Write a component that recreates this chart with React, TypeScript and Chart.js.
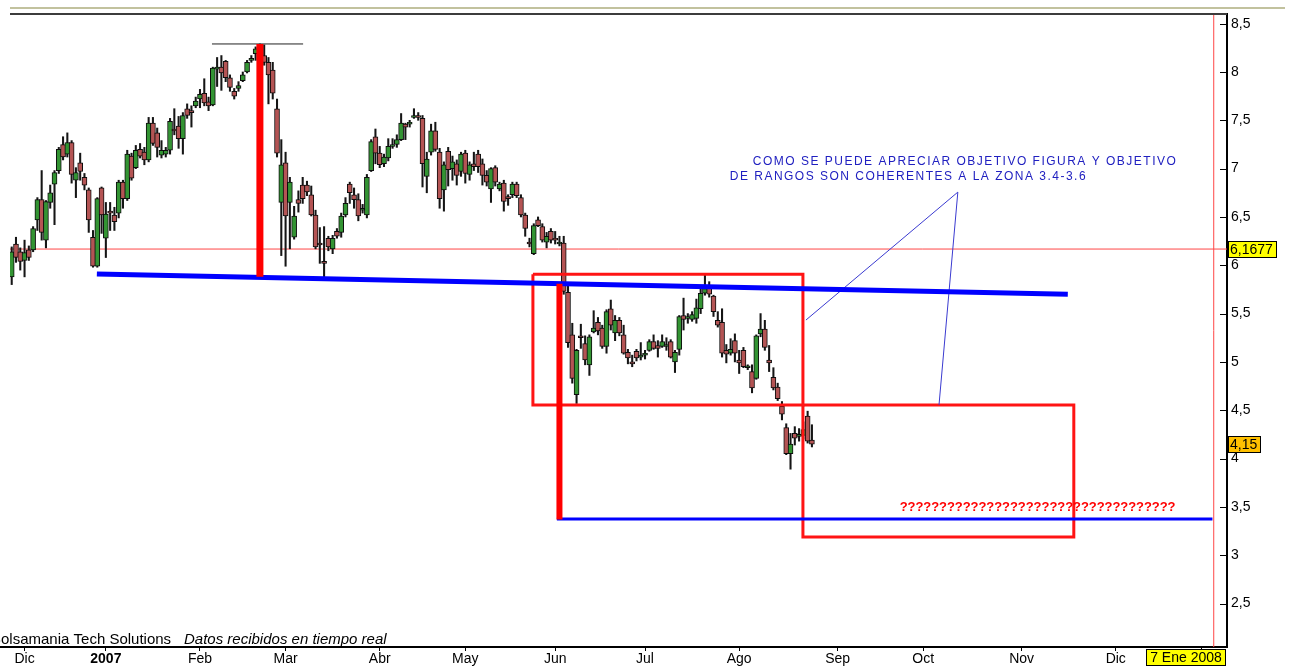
import React, { useEffect, useRef } from 'react';
import { Chart, registerables } from 'chart.js';

Chart.register(...registerables);

// ---------- DATA (trading-day index 0 = first candle, late Nov 2006) ----------
const opens = [
  5.88, 6.22, 6.14, 6.05, 6.16, 6.16, 6.47, 6.68, 6.26, 6.65,
  6.84, 6.98, 7.25, 7.15, 7.27, 6.88, 7.06, 6.91, 6.78, 6.29,
  5.99, 6.80, 6.28, 6.56, 6.52, 6.54, 6.86, 6.69, 7.13, 7.01,
  7.20, 7.17, 7.09, 7.47, 7.37, 7.14, 7.15, 7.19, 7.41, 7.44,
  7.31, 7.62, 7.60, 7.65, 7.72, 7.78, 7.69, 7.66, 8.03, 8.05,
  8.11, 7.94, 7.80, 7.83, 7.91, 8.00, 8.12, 8.19, 8.22, 8.17,
  8.10, 8.02, 7.62, 6.65, 7.06, 6.65, 6.29, 6.68, 6.83, 6.83,
  6.73, 6.52, 6.23, 6.04, 6.28, 6.17, 6.35, 6.34, 6.52, 6.84,
  6.73, 6.68, 6.57, 6.52, 6.98, 7.33, 7.16, 7.05, 7.11, 7.23,
  7.25, 7.30, 7.46, 7.46, 7.53, 7.55, 7.52, 6.92, 7.17, 7.39,
  7.17, 6.78, 7.18, 7.00, 7.05, 6.97, 7.16, 6.94, 7.05, 7.15,
  7.05, 6.93, 6.79, 7.01, 6.79, 6.85, 6.71, 6.73, 6.84, 6.70,
  6.52, 6.24, 6.12, 6.47, 6.40, 6.24, 6.35, 6.28, 6.22, 6.23,
  5.72, 5.28, 4.66, 5.27, 5.19, 4.97, 5.31, 5.41, 5.35, 5.16,
  5.55, 5.30, 5.43, 5.28, 5.10, 5.00, 5.11, 5.05, 5.07, 5.12,
  5.21, 5.17, 5.16, 5.16, 5.21, 5.00, 5.13, 5.48, 5.45, 5.44,
  5.45, 5.55, 5.71, 5.79, 5.68, 5.43, 5.41, 5.12, 5.09, 5.22,
  5.02, 5.12, 4.94, 4.90, 4.83, 5.29, 5.34, 5.02, 4.84, 4.74,
  4.54, 4.32, 4.05, 4.26, 4.23, 4.24, 4.44, 4.19,
];
const highs = [
  6.19, 6.29, 6.18, 6.26, 6.20, 6.40, 6.70, 6.98, 6.67, 6.83,
  6.98, 7.22, 7.33, 7.37, 7.29, 7.01, 7.16, 6.95, 6.80, 6.36,
  6.70, 6.81, 6.65, 6.65, 6.60, 6.88, 6.88, 7.19, 7.16, 7.24,
  7.26, 7.22, 7.53, 7.53, 7.42, 7.29, 7.22, 7.52, 7.62, 7.54,
  7.58, 7.67, 7.65, 7.74, 7.82, 7.93, 7.74, 8.05, 8.15, 8.17,
  8.12, 7.97, 7.83, 7.90, 8.00, 8.12, 8.17, 8.26, 8.29, 8.28,
  8.15, 8.10, 7.72, 7.30, 7.17, 6.91, 6.61, 6.77, 6.91, 6.87,
  6.82, 6.57, 6.39, 6.40, 6.30, 6.31, 6.38, 6.54, 6.70, 6.86,
  6.80, 6.74, 6.63, 6.94, 7.30, 7.41, 7.23, 7.15, 7.31, 7.31,
  7.35, 7.57, 7.47, 7.50, 7.62, 7.58, 7.55, 7.17, 7.46, 7.48,
  7.21, 7.07, 7.22, 7.13, 7.09, 7.17, 7.19, 7.07, 7.17, 7.19,
  7.10, 6.98, 7.01, 7.03, 6.86, 6.88, 6.73, 6.86, 6.86, 6.73,
  6.54, 6.28, 6.43, 6.50, 6.43, 6.34, 6.38, 6.35, 6.30, 6.30,
  5.80, 5.40, 5.13, 5.39, 5.27, 5.28, 5.53, 5.46, 5.38, 5.54,
  5.64, 5.48, 5.46, 5.38, 5.13, 5.07, 5.13, 5.20, 5.12, 5.23,
  5.28, 5.22, 5.28, 5.25, 5.23, 5.12, 5.48, 5.66, 5.50, 5.52,
  5.65, 5.77, 5.90, 5.83, 5.69, 5.52, 5.55, 5.18, 5.24, 5.29,
  5.12, 5.15, 4.97, 4.97, 5.28, 5.50, 5.43, 5.17, 4.94, 4.78,
  4.59, 4.36, 4.26, 4.33, 4.31, 4.38, 4.49, 4.35,
];
const lows = [
  5.80, 6.03, 5.95, 5.88, 6.05, 6.14, 6.36, 6.26, 6.18, 6.59,
  6.42, 6.95, 7.09, 7.12, 6.85, 6.70, 6.88, 6.78, 6.34, 5.98,
  5.98, 6.33, 6.08, 6.36, 6.36, 6.49, 6.59, 6.67, 6.88, 7.00,
  7.11, 7.04, 7.07, 7.24, 7.12, 7.11, 7.12, 7.15, 7.35, 7.21,
  7.15, 7.52, 7.43, 7.63, 7.63, 7.65, 7.60, 7.65, 7.85, 7.81,
  7.90, 7.80, 7.72, 7.80, 7.90, 7.99, 8.10, 8.12, 8.15, 8.07,
  7.67, 7.72, 7.12, 6.10, 5.99, 6.17, 6.27, 6.55, 6.64, 6.72,
  6.51, 6.17, 6.02, 5.88, 6.15, 6.12, 6.28, 6.29, 6.50, 6.64,
  6.59, 6.46, 6.54, 6.49, 6.97, 7.05, 7.01, 7.02, 7.08, 7.21,
  7.22, 7.29, 7.30, 7.43, 7.52, 7.50, 6.81, 6.75, 7.14, 7.18,
  6.59, 6.56, 6.82, 6.88, 6.83, 6.92, 6.85, 6.88, 6.98, 6.96,
  6.83, 6.82, 6.65, 6.82, 6.77, 6.56, 6.62, 6.70, 6.70, 6.50,
  6.30, 6.19, 6.11, 6.40, 6.24, 6.18, 6.23, 6.22, 6.20, 5.70,
  5.15, 4.78, 4.57, 5.14, 4.97, 4.86, 5.30, 5.28, 5.14, 5.09,
  5.33, 5.22, 5.27, 5.08, 4.98, 4.95, 5.01, 5.02, 5.03, 5.11,
  5.13, 5.05, 5.15, 5.12, 5.04, 4.89, 5.07, 5.33, 5.40, 5.42,
  5.40, 5.50, 5.69, 5.67, 5.47, 5.36, 5.05, 4.99, 5.07, 5.00,
  4.88, 4.94, 4.92, 4.68, 4.82, 5.26, 5.12, 4.90, 4.71, 4.60,
  4.40, 4.04, 3.89, 4.14, 4.18, 4.20, 4.16, 4.12,
];
const closes = [
  6.14, 6.08, 6.04, 6.13, 6.08, 6.38, 6.68, 6.34, 6.66, 6.75,
  6.96, 7.20, 7.12, 7.27, 6.94, 6.96, 6.97, 6.83, 6.47, 5.99,
  6.69, 6.52, 6.53, 6.54, 6.45, 6.86, 6.69, 7.15, 6.90, 7.19,
  7.13, 7.09, 7.47, 7.26, 7.22, 7.19, 7.19, 7.49, 7.39, 7.31,
  7.55, 7.55, 7.58, 7.70, 7.77, 7.68, 7.65, 8.04, 8.05, 7.99,
  7.94, 7.84, 7.75, 7.86, 7.97, 8.10, 8.14, 8.24, 8.27, 8.10,
  7.97, 7.78, 7.16, 7.04, 6.51, 6.86, 6.51, 6.64, 6.69, 6.76,
  6.52, 6.19, 6.21, 6.02, 6.19, 6.28, 6.30, 6.51, 6.64, 6.75,
  6.68, 6.51, 6.59, 6.91, 7.28, 7.16, 7.04, 7.12, 7.23, 7.25,
  7.30, 7.47, 7.43, 7.48, 7.55, 7.53, 7.05, 7.10, 7.39, 7.20,
  6.69, 7.04, 6.99, 7.07, 6.93, 7.15, 6.95, 7.04, 7.02, 7.02,
  6.93, 6.86, 7.00, 6.86, 6.84, 6.66, 6.69, 6.84, 6.72, 6.52,
  6.38, 6.22, 6.41, 6.41, 6.26, 6.30, 6.26, 6.26, 6.24, 5.73,
  5.20, 4.83, 5.12, 5.25, 5.02, 5.26, 5.35, 5.32, 5.16, 5.52,
  5.38, 5.43, 5.30, 5.09, 5.04, 4.98, 5.04, 5.07, 5.09, 5.21,
  5.14, 5.14, 5.21, 5.18, 5.05, 5.10, 5.47, 5.44, 5.47, 5.49,
  5.56, 5.71, 5.76, 5.70, 5.52, 5.38, 5.09, 5.08, 5.13, 5.09,
  4.99, 4.95, 4.96, 4.73, 5.27, 5.34, 5.15, 4.99, 4.73, 4.62,
  4.46, 4.05, 4.15, 4.21, 4.25, 4.30, 4.18, 4.15,
];

// month ticks (trading-day index of the first session of each month)
const monthTickIdx = [3, 22, 44, 64, 86, 106, 127, 148, 170, 193, 213, 236, 258, 278];
const monthTickLabels = ['Dic', '2007', 'Feb', 'Mar', 'Abr', 'May', 'Jun', 'Jul', 'Ago', 'Sep', 'Oct', 'Nov', 'Dic', ''];
const todayLabel = '7 Ene 2008';
const priceTicks = [2.5, 3, 3.5, 4, 4.5, 5, 5.5, 6, 6.5, 7, 7.5, 8, 8.5];

const lastPrice = 4.15;
const refLevel = 6.1677;
const todayIdx = 280.9;

// drawn annotations (index, price)
const topMarkerX = [46.8, 68.1];
const topMarkerY = 8.29;
const bar1X = 58;
const bar1Y = [8.29, 5.88];
const bar2X = 128;
const bar2Y = [5.81, 3.37];
const slopeLineX = [19.9, 246.8];
const slopeLineY = [5.91, 5.7];
const targetLineX = [127.4, 280.6];
const targetLineY = 3.375;
const rect1X = [121.8, 184.9];
const rect1Y = [5.908, 4.554];
const rect2X = [184.9, 248.2];
const rect2Y = [4.554, 3.189];
const pointerX = [185.6, 221.1, 216.7];
const pointerY = [5.433, 6.757, 4.554];

const noteLines = [
  'COMO SE PUEDE APRECIAR OBJETIVO FIGURA Y OBJETIVO',
  'DE RANGOS SON COHERENTES A LA ZONA 3.4-3.6',
];
const noteX = [173.2, 167.8];
const noteY = [7.07, 6.915];
const questionText = '???????????????????????????????????';
const questionX = 207.5;
const questionY = 3.49;
const footerBrand = 'Bolsamania Tech Solutions';
const footerNote = 'Datos recibidos en tiempo real';

const X_MIN = -0.4;
const X_MAX = 284;
const Y_MIN = 2.05;
const Y_MAX = 8.6;

const FONT = 'Arial, "Liberation Sans", sans-serif';

function fitText(ctx: CanvasRenderingContext2D, text: string, x: number, y: number, target: number) {
  (ctx as any).letterSpacing = '0px';
  const w = ctx.measureText(text).width;
  const ls = (target - w) / Math.max(1, text.length - 1);
  (ctx as any).letterSpacing = ls.toFixed(2) + 'px';
  ctx.fillText(text, x, y);
  (ctx as any).letterSpacing = '0px';
}

const overlayPlugin = {
  id: 'overlay',
  afterDraw(chart: any) {
    const { ctx, chartArea: a, scales } = chart;
    const x = scales.x;
    const y = scales.y;
    ctx.save();
    // frame lines at the top
    ctx.fillStyle = '#c2c29e';
    ctx.fillRect(a.left, 7, 1285 - a.left, 2);
    ctx.fillStyle = '#3c3c3c';
    ctx.fillRect(a.left, a.top - 1, a.right - a.left, 2);
    // bottom axis line extends to the left edge
    ctx.fillStyle = '#000';
    ctx.fillRect(0, a.bottom - 1, a.left + 1, 2);
    // inward price ticks
    ctx.strokeStyle = '#000';
    ctx.lineWidth = 1;
    for (const v of priceTicks) {
      const py = Math.round(y.getPixelForValue(v)) + 0.5;
      ctx.beginPath();
      ctx.moveTo(a.right - 7, py);
      ctx.lineTo(a.right, py);
      ctx.stroke();
    }
    // blue note
    ctx.fillStyle = '#2020c0';
    ctx.font = '12px ' + FONT;
    ctx.textAlign = 'left';
    ctx.textBaseline = 'middle';
    const noteWidths = [423, 356];
    noteLines.forEach((t, k) => {
      fitText(ctx, t, x.getPixelForValue(noteX[k]), y.getPixelForValue(noteY[k]), noteWidths[k]);
    });
    // red question marks
    ctx.fillStyle = '#ff0000';
    ctx.font = 'bold 13px ' + FONT;
    fitText(ctx, questionText, x.getPixelForValue(questionX), y.getPixelForValue(questionY), 276);
    // footer
    ctx.fillStyle = '#000';
    ctx.textBaseline = 'alphabetic';
    ctx.font = '15px ' + FONT;
    ctx.fillText(footerBrand, -9, 644);
    ctx.font = 'italic 15px ' + FONT;
    ctx.fillText(footerNote, 184, 644);
    // value boxes on the price axis
    const box = (text: string, v: number, bg: string) => {
      ctx.font = '14px ' + FONT;
      const w = Math.round(ctx.measureText(text).width) + 6;
      const h = 17;
      const py = Math.round(y.getPixelForValue(v) - h / 2);
      ctx.fillStyle = bg;
      ctx.fillRect(a.right + 1, py, w, h);
      ctx.strokeStyle = '#000';
      ctx.lineWidth = 1;
      ctx.strokeRect(a.right + 1.5, py + 0.5, w - 1, h - 1);
      ctx.fillStyle = '#000';
      ctx.textAlign = 'left';
      ctx.textBaseline = 'middle';
      ctx.fillText(text, a.right + 3, py + h / 2 + 1);
    };
    box(String(refLevel).replace('.', ','), refLevel, '#ffff00');
    box(String(lastPrice).replace('.', ','), lastPrice, '#ffc000');
    // date box on the time axis
    ctx.font = '14px ' + FONT;
    const dw = Math.round(ctx.measureText(todayLabel).width) + 8;
    const dx = a.right - 1 - dw;
    const dy = a.bottom + 2;
    ctx.fillStyle = '#ffff00';
    ctx.fillRect(dx, dy, dw, 17);
    ctx.strokeStyle = '#000';
    ctx.strokeRect(dx + 0.5, dy + 0.5, dw - 1, 16);
    ctx.fillStyle = '#000';
    ctx.textAlign = 'center';
    ctx.textBaseline = 'middle';
    ctx.fillText(todayLabel, dx + dw / 2, dy + 9);
    ctx.restore();
  },
};

function lineDs(points: { x: number; y: number }[], color: string, width: number, order: number) {
  return {
    type: 'line' as const,
    data: points,
    borderColor: color,
    backgroundColor: color,
    borderWidth: width,
    pointRadius: 0,
    fill: false,
    tension: 0,
    order,
    borderCapStyle: 'butt',
    borderJoinStyle: 'miter',
  };
}

function rectPoints(xs: number[], ys: number[]) {
  return [
    { x: xs[0], y: ys[0] },
    { x: xs[1], y: ys[0] },
    { x: xs[1], y: ys[1] },
    { x: xs[0], y: ys[1] },
    { x: xs[0], y: ys[0] },
  ];
}

export default function App() {
  const canvasRef = useRef<HTMLCanvasElement>(null);

  useEffect(() => {
    const idx = opens.map((_, i) => i);
    const bodyColors = idx.map((i) => (closes[i] >= opens[i] ? '#339433' : '#b45454'));
    const chart = new Chart(canvasRef.current as HTMLCanvasElement, {
      type: 'bar',
      data: {
        datasets: [
          lineDs([{ x: X_MIN, y: refLevel }, { x: X_MAX, y: refLevel }], '#ff4646', 1, 20) as any,
          lineDs([{ x: todayIdx, y: Y_MIN }, { x: todayIdx, y: Y_MAX }], '#ff4646', 1, 20) as any,
          {
            type: 'bar',
            data: idx.map((i) => ({ x: i, y: [lows[i], highs[i]] })) as any,
            backgroundColor: '#151515',
            barThickness: 1.4,
            grouped: false,
            order: 10,
          },
          {
            type: 'bar',
            data: idx.map((i) => ({ x: i, y: [opens[i], closes[i]] })) as any,
            backgroundColor: bodyColors,
            borderColor: '#0d0d0d',
            borderWidth: 1,
            borderSkipped: false,
            barThickness: 5,
            grouped: false,
            order: 9,
          },
          lineDs([{ x: topMarkerX[0], y: topMarkerY }, { x: topMarkerX[1], y: topMarkerY }], '#222222', 1, 2) as any,
          lineDs(rectPoints(rect1X, rect1Y), '#ff1414', 3, 2) as any,
          lineDs(rectPoints(rect2X, rect2Y), '#ff1414', 3, 2) as any,
          lineDs([{ x: slopeLineX[0], y: slopeLineY[0] }, { x: slopeLineX[1], y: slopeLineY[1] }], '#0000ff', 5, 1) as any,
          lineDs([{ x: targetLineX[0], y: targetLineY }, { x: targetLineX[1], y: targetLineY }], '#0000ff', 3, 1) as any,
          lineDs([{ x: bar1X, y: bar1Y[0] }, { x: bar1X, y: bar1Y[1] }], '#ff0000', 7, 0) as any,
          lineDs([{ x: bar2X, y: bar2Y[0] }, { x: bar2X, y: bar2Y[1] }], '#ff0000', 6, 0) as any,
          lineDs(pointerX.map((px, k) => ({ x: px, y: pointerY[k] })), '#3a3ad0', 1, 1) as any,
        ],
      },
      options: {
        responsive: false,
        devicePixelRatio: 1,
        animation: false,
        events: [],
        layout: { padding: { left: 10, top: 14, right: 0, bottom: 0 } },
        plugins: { legend: { display: false }, tooltip: { enabled: false } },
        scales: {
          x: {
            type: 'linear',
            min: X_MIN,
            max: X_MAX,
            offset: false,
            grid: { display: true, drawOnChartArea: false, drawTicks: true, tickLength: 4, color: '#000', offset: false },
            border: { display: true, color: '#000', width: 2 },
            ticks: {
              autoSkip: false,
              maxRotation: 0,
              minRotation: 0,
              padding: 0,
              color: '#000',
              font: (c: any) => ({
                family: FONT,
                size: 14,
                weight: c.tick && c.tick.label === '2007' ? 'bold' : 'normal',
              }),
              callback: (_v: any, i: number) => monthTickLabels[i] ?? '',
            },
            afterBuildTicks: (s: any) => {
              s.ticks = monthTickIdx.map((v) => ({ value: v }));
            },
            afterFit: (s: any) => {
              s.height = 19;
            },
          },
          y: {
            type: 'linear',
            position: 'right',
            min: Y_MIN,
            max: Y_MAX,
            grid: { display: true, drawOnChartArea: false, drawTicks: false },
            border: { display: true, color: '#000', width: 2 },
            ticks: {
              padding: 4,
              color: '#000',
              font: { family: FONT, size: 14 },
              callback: (v: any) => String(v).replace('.', ','),
            },
            afterBuildTicks: (s: any) => {
              s.ticks = priceTicks.map((v) => ({ value: v }));
            },
            afterFit: (s: any) => {
              s.width = 64;
            },
          },
        },
      } as any,
      plugins: [overlayPlugin],
    });
    return () => chart.destroy();
  }, []);

  return (
    <div style={{ position: 'absolute', left: 0, top: 0, width: 1291, height: 666, background: '#ffffff' }}>
      <canvas ref={canvasRef} width={1291} height={666} style={{ display: 'block', width: 1291, height: 666 }} />
    </div>
  );
}
